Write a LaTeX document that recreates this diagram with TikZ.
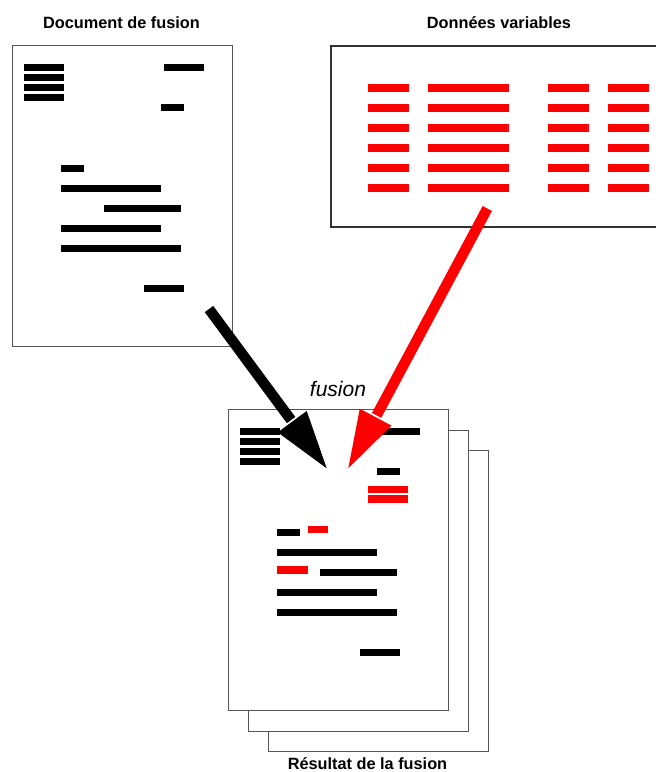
\documentclass[tikz,border=0pt]{standalone}
\usepackage{fontspec}
\setmainfont{Liberation Sans}
\usetikzlibrary{calc}
\definecolor{pagegray}{RGB}{85,85,85}
\definecolor{fusred}{RGB}{255,0,0}
\tikzset{
  page/.style={draw=pagegray, line width=1pt, fill=white, rectangle, inner sep=0pt,
    minimum width=220pt, minimum height=301pt, anchor=north west},
  databox/.style={draw=black!80, line width=1.2pt, fill=white},
  bar/.style={line width=7pt, black},
  redbar/.style={line width=8pt, fusred},
  redbarsm/.style={line width=7.3pt, fusred},
  title/.style={font=\bfseries\fontsize{16.3}{18}\selectfont, anchor=base, inner sep=0pt},
  biglabel/.style={font=\itshape\fontsize{21}{24}\selectfont, anchor=base, inner sep=0pt},
  shaft/.style={line width=10.5pt}
}
\newcommand{\docbars}{%
  \draw[bar] (12,22.7) -- (52,22.7);
  \draw[bar] (12,32.7) -- (52,32.7);
  \draw[bar] (12,42.7) -- (52,42.7);
  \draw[bar] (12,52.7) -- (52,52.7);
  \draw[bar] (152,22.7) -- (192,22.7);
  \draw[bar] (149,62.7) -- (172,62.7);
  \draw[bar] (49,123) -- (72,123);
  \draw[bar] (49,143) -- (149,143);
  \draw[bar] (92,163) -- (169,163);
  \draw[bar] (49,183) -- (149,183);
  \draw[bar] (49,203) -- (169,203);
  \draw[bar] (132,243.7) -- (172,243.7);
}
% #1 start, #2 tip, #3 colour
\newcommand{\fatarrow}[3]{%
  \coordinate (hb) at ($(#2)!58pt!(#1)$);
  \draw[shaft, #3] (#1) -- ($(hb)!-2pt!(#2)$);
  \fill[#3] (#2) -- ($(hb)!18pt!90:(#2)$) -- ($(hb)!18pt!-90:(#2)$) -- cycle;
}
\begin{document}
\begin{tikzpicture}[x=1pt,y=-1pt]
\useasboundingbox (0,0) rectangle (656,772);

% titles
\node[title] (t1) at (121.5,28) {Document de fusion};
\node[title] (t2) at (499,28) {Données variables};
\node[title] (t3) at (367.5,769) {Résultat de la fusion};

% merge document
\node[page] (doc) at (12,45) {};
\begin{scope}[shift={(12,45)}]
  \docbars
\end{scope}

% variable data
\draw[databox] (672,46) -- (331,46) -- (331,227) -- (672,227);
\coordinate (data) at (331,46);
\foreach \y in {87.5,107.7,127.7,147.7,167.7,187.7}{
  \draw[redbar] (368,\y) -- (408.7,\y);
  \draw[redbar] (428,\y) -- (508.7,\y);
  \draw[redbar] (548,\y) -- (588.7,\y);
  \draw[redbar] (608,\y) -- (648.7,\y);
}

% result stack
\node[page] (res3) at (268,449.5) {};
\node[page] (res2) at (248,429.5) {};
\node[page] (res1) at (228,409) {};
\begin{scope}[shift={(228,409)}]
  \docbars
  \draw[redbarsm] (140.3,80.7) -- (180.3,80.7);
  \draw[redbarsm] (140.3,90) -- (180.3,90);
  \draw[redbarsm] (80.3,120.7) -- (100.3,120.7);
  \draw[redbarsm] (49.3,161) -- (80.3,161);
\end{scope}

\node[biglabel] (fus) at (338,396.7) {fusion};

% arrows
\coordinate (bstart) at (209,309);
\coordinate (btip) at (326.7,468.3);
\coordinate (rstart) at (487.3,208.5);
\coordinate (rtip) at (348.3,468.3);
\fatarrow{bstart}{btip}{black}
\fatarrow{rstart}{rtip}{fusred}
\end{tikzpicture}
\end{document}
